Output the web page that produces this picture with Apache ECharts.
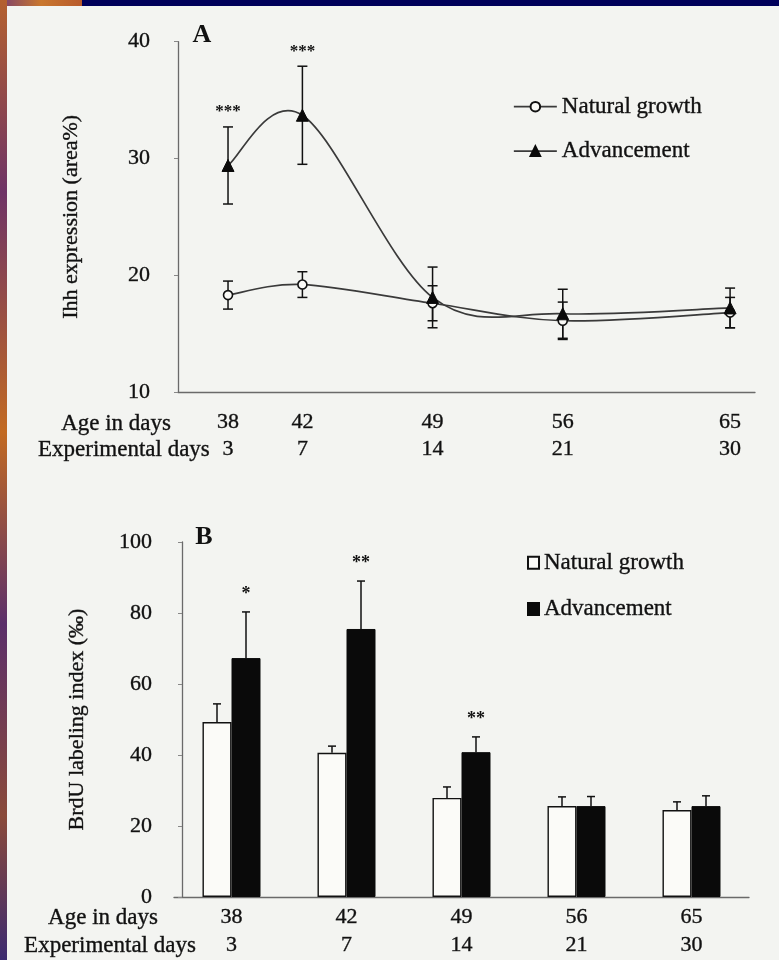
<!DOCTYPE html>
<html>
<head>
<meta charset="utf-8">
<script src="https://cdn.jsdelivr.net/npm/echarts@6/dist/echarts.min.js"></script>
<style>
  html, body { margin: 0; padding: 0; background: #00005a; }
  #chart { width: 779px; height: 960px; }
</style>
</head>
<body>
<div id="chart"></div>
<script>
// Sampling times
const ageDays = [38, 42, 49, 56, 65];
const expDays = [3, 7, 14, 21, 30];

// Panel A: Ihh expression (area %), mean and SD
const ihhNatural = [18.3, 19.2, 17.6, 16.1, 16.8];
const ihhNaturalErr = [1.2, 1.1, 1.5, 1.6, 1.3];
const ihhAdvance = [29.4, 33.7, 18.1, 16.7, 17.2];
const ihhAdvanceErr = [3.3, 4.2, 2.6, 2.1, 1.7];
const ihhSig = ['***', '***', '', '', ''];

// Panel B: BrdU labeling index (‰), mean and SD
const brduNatural = [49.3, 40.6, 27.9, 25.6, 24.5];
const brduNaturalErr = [5.1, 1.9, 3.1, 2.6, 2.3];
const brduAdvance = [67.3, 75.5, 40.8, 25.6, 25.6];
const brduAdvanceErr = [13.0, 13.5, 4.3, 2.7, 2.9];
const brduSig = ['*', '**', '**', '', ''];

const groupNames = ['Natural growth', 'Advancement'];

const FONT = '"Liberation Serif", "DejaVu Serif", serif';
const INK = '#111';
const CURVE = '#3a3a3a';
const BAR_W = 29;

const chart = echarts.init(document.getElementById('chart'), null, { renderer: 'canvas' });

function twoRowLabel(v, i) {
  const k = ageDays.indexOf(Number(v));
  return v + '\n' + expDays[k >= 0 ? k : i];
}

// Smoothed curve through the points (cubic Bezier, Catmull-Rom tangents in pixel space)
function smoothCurve(values) {
  return {
    type: 'custom', xAxisIndex: 0, yAxisIndex: 0, z: 2, silent: true,
    data: ageDays.map((a, i) => [a, values[i]]),
    renderItem(params, api) {
      if (params.dataIndex !== 0) return null;
      const p = ageDays.map((a, i) => api.coord([a, values[i]]));
      const n = p.length;
      const t = 1 / 6;
      const segs = [];
      for (let i = 0; i < n - 1; i++) {
        const p0 = p[Math.max(i - 1, 0)], p1 = p[i], p2 = p[i + 1], p3 = p[Math.min(i + 2, n - 1)];
        segs.push({
          type: 'bezierCurve',
          shape: {
            x1: p1[0], y1: p1[1], x2: p2[0], y2: p2[1],
            cpx1: p1[0] + (p2[0] - p0[0]) * t, cpy1: p1[1] + (p2[1] - p0[1]) * t,
            cpx2: p2[0] - (p3[0] - p1[0]) * t, cpy2: p2[1] - (p3[1] - p1[1]) * t
          },
          style: { stroke: CURVE, lineWidth: 1.7, fill: null }
        });
      }
      return { type: 'group', children: segs };
    }
  };
}

// Error bars (both directions) for the line panel, with significance marks
function lineErrorBars(values, errs, sig) {
  return {
    type: 'custom', xAxisIndex: 0, yAxisIndex: 0, z: 3, silent: true,
    data: ageDays.map((a, i) => [a, values[i] - errs[i], values[i] + errs[i], i]),
    renderItem(params, api) {
      const x = api.value(0);
      const lo = api.coord([x, api.value(1)]);
      const hi = api.coord([x, api.value(2)]);
      const h = 5;
      const st = { stroke: INK, lineWidth: 1.5 };
      const children = [
        { type: 'line', shape: { x1: lo[0], y1: lo[1], x2: hi[0], y2: hi[1] }, style: st },
        { type: 'line', shape: { x1: lo[0] - h, y1: lo[1], x2: lo[0] + h, y2: lo[1] }, style: st },
        { type: 'line', shape: { x1: hi[0] - h, y1: hi[1], x2: hi[0] + h, y2: hi[1] }, style: st }
      ];
      const s = sig ? sig[api.value(3)] : '';
      if (s) {
        children.push({
          type: 'text', x: hi[0], y: hi[1] - 15,
          style: { text: s, fill: INK, font: 'bold 17px ' + FONT, align: 'center', verticalAlign: 'middle' }
        });
      }
      return { type: 'group', children };
    }
  };
}

// Upward error bars for the bar panel; dx shifts to the bar's centre
function barErrorBars(values, errs, dx, sig) {
  return {
    type: 'custom', xAxisIndex: 1, yAxisIndex: 1, z: 3, silent: true,
    data: values.map((v, i) => [i, v, v + errs[i]]),
    renderItem(params, api) {
      const i = api.value(0);
      const base = api.coord([i, api.value(1)]);
      const top = api.coord([i, api.value(2)]);
      const x = base[0] + dx;
      const h = 4;
      const st = { stroke: INK, lineWidth: 1.5 };
      const children = [
        { type: 'line', shape: { x1: x, y1: base[1], x2: x, y2: top[1] }, style: st },
        { type: 'line', shape: { x1: x - h, y1: top[1], x2: x + h, y2: top[1] }, style: st }
      ];
      const s = sig ? sig[i] : '';
      if (s) {
        children.push({
          type: 'text', x: x, y: top[1] - 18,
          style: { text: s, fill: INK, font: 'bold 18px ' + FONT, align: 'center', verticalAlign: 'middle' }
        });
      }
      return { type: 'group', children };
    }
  };
}

const inkText = { color: INK, fontFamily: FONT, textBorderColor: '#333', textBorderWidth: 0.4 };
const axisText = Object.assign({ fontSize: 22 }, inkText);
const titleFont = '23px ' + FONT;
const titleStyle = (text, align) => ({ text, font: titleFont, fill: INK, stroke: '#333', lineWidth: 0.4, align, verticalAlign: 'middle' });

const option = {
  animation: false,
  backgroundColor: 'transparent',
  graphic: [
    // sheet and surroundings
    { type: 'rect', z: -100, shape: { x: 0, y: 0, width: 779, height: 960 }, style: { fill: '#00005a' } },
    { type: 'rect', z: -99, shape: { x: 0, y: 0, width: 82, height: 7 },
      style: { fill: new echarts.graphic.LinearGradient(0, 0, 1, 0, [
        { offset: 0, color: '#7a3f6e' }, { offset: 0.5, color: '#c9772e' }, { offset: 1, color: '#b85a2c' }]) } },
    { type: 'rect', z: -99, shape: { x: 0, y: 0, width: 7, height: 960 },
      style: { fill: new echarts.graphic.LinearGradient(0, 0, 0, 1, [
        { offset: 0, color: '#b4602e' }, { offset: 0.2, color: '#6e3366' }, { offset: 0.45, color: '#c26a22' },
        { offset: 0.65, color: '#5b2f6a' }, { offset: 0.85, color: '#8a4a3a' }, { offset: 1, color: '#3c2a70' }]) } },
    { type: 'rect', z: -98, shape: { x: 7, y: 6, width: 772, height: 954 }, style: { fill: '#f3f4f1' } },
    // panel letters
    { type: 'text', z: 10, x: 202, y: 35, style: { text: 'A', font: 'bold 26px ' + FONT, fill: INK, align: 'center', verticalAlign: 'middle' } },
    { type: 'text', z: 10, x: 204, y: 537, style: { text: 'B', font: 'bold 26px ' + FONT, fill: INK, align: 'center', verticalAlign: 'middle' } },
    // row titles under the axes
    { type: 'text', z: 10, x: 171, y: 424, style: titleStyle('Age in days', 'right') },
    { type: 'text', z: 10, x: 38, y: 450, style: titleStyle('Experimental days', 'left') },
    { type: 'text', z: 10, x: 103, y: 918, style: titleStyle('Age in days', 'center') },
    { type: 'text', z: 10, x: 110, y: 946, style: titleStyle('Experimental days', 'center') }
  ],
  legend: [
    {
      data: groupNames,
      orient: 'vertical', left: 508, top: 90, itemGap: 21,
      itemWidth: 43, itemHeight: 12,
      lineStyle: { color: CURVE, width: 1.7, opacity: 1 },
      textStyle: Object.assign({ fontSize: 23, lineHeight: 23 }, inkText)
    },
    {
      data: ['natural-B', 'advance-B'],
      formatter: (n) => (n === 'natural-B' ? groupNames[0] : groupNames[1]),
      orient: 'vertical', left: 522, top: 546, itemGap: 23,
      itemWidth: 11, itemHeight: 12, icon: 'rect',
      textStyle: Object.assign({ fontSize: 23, lineHeight: 23 }, inkText)
    }
  ],
  grid: [
    { left: 178, top: 41.7, width: 577, height: 350.3 },
    { left: 174, top: 542, width: 575, height: 355 }
  ],
  xAxis: [
    {
      gridIndex: 0, type: 'value', min: 35.31, max: 66.34,
      axisLine: { lineStyle: { color: '#6a6a6a', width: 1.3 } },
      axisTick: { show: false }, splitLine: { show: false },
      axisLabel: Object.assign({ customValues: ageDays, formatter: twoRowLabel, margin: 17, lineHeight: 27 }, axisText)
    },
    {
      gridIndex: 1, type: 'category', data: ageDays.map(String),
      axisLine: { lineStyle: { color: '#6a6a6a', width: 1.3 } },
      axisTick: { show: false },
      axisLabel: Object.assign({ formatter: twoRowLabel, margin: 6, lineHeight: 28 }, axisText)
    }
  ],
  yAxis: [
    {
      gridIndex: 0, type: 'value', min: 10, max: 40, interval: 10,
      name: 'Ihh expression (area%)', nameLocation: 'middle', nameGap: 96,
      nameTextStyle: Object.assign({ fontSize: 22 }, inkText),
      axisLine: { show: true, lineStyle: { color: '#6a6a6a', width: 1.3 } },
      axisTick: { show: true, length: 4, lineStyle: { color: '#888' } },
      splitLine: { show: false },
      axisLabel: Object.assign({ margin: 28 }, axisText)
    },
    {
      gridIndex: 1, type: 'value', min: 0, max: 100, interval: 20, offset: -8,
      name: 'BrdU labeling index (‰)', nameLocation: 'middle', nameGap: 94,
      nameTextStyle: Object.assign({ fontSize: 22 }, inkText),
      axisLine: { show: true, lineStyle: { color: '#6a6a6a', width: 1.3 } },
      axisTick: { show: true, length: 4, lineStyle: { color: '#888' } },
      splitLine: { show: false },
      axisLabel: Object.assign({ margin: 30 }, axisText)
    }
  ],
  series: [
    smoothCurve(ihhNatural),
    smoothCurve(ihhAdvance),
    lineErrorBars(ihhNatural, ihhNaturalErr, null),
    lineErrorBars(ihhAdvance, ihhAdvanceErr, ihhSig),
    {
      name: groupNames[0], type: 'line', xAxisIndex: 0, yAxisIndex: 0, z: 4,
      data: ageDays.map((a, i) => [a, ihhNatural[i]]),
      symbol: 'circle', symbolSize: 9,
      lineStyle: { color: CURVE, width: 1.7, opacity: 0 },
      itemStyle: { color: '#fafaf7', borderColor: INK, borderWidth: 1.6 }
    },
    {
      name: groupNames[1], type: 'line', xAxisIndex: 0, yAxisIndex: 0, z: 4,
      data: ageDays.map((a, i) => [a, ihhAdvance[i]]),
      symbol: 'triangle', symbolSize: 12,
      lineStyle: { color: CURVE, width: 1.7, opacity: 0 },
      itemStyle: { color: '#0a0a0a', borderColor: '#0a0a0a', borderWidth: 1 }
    },
    {
      name: 'natural-B', type: 'bar', xAxisIndex: 1, yAxisIndex: 1,
      data: brduNatural, barWidth: BAR_W, barGap: '0%',
      itemStyle: { color: '#fbfbf8', borderColor: INK, borderWidth: 1.4 }
    },
    {
      name: 'advance-B', type: 'bar', xAxisIndex: 1, yAxisIndex: 1,
      data: brduAdvance, barWidth: BAR_W, barGap: '0%',
      itemStyle: { color: '#0a0a0a', borderColor: '#0a0a0a', borderWidth: 1 }
    },
    barErrorBars(brduNatural, brduNaturalErr, -BAR_W / 2, null),
    barErrorBars(brduAdvance, brduAdvanceErr, BAR_W / 2, brduSig)
  ]
};

chart.setOption(option);
</script>
</body>
</html>
